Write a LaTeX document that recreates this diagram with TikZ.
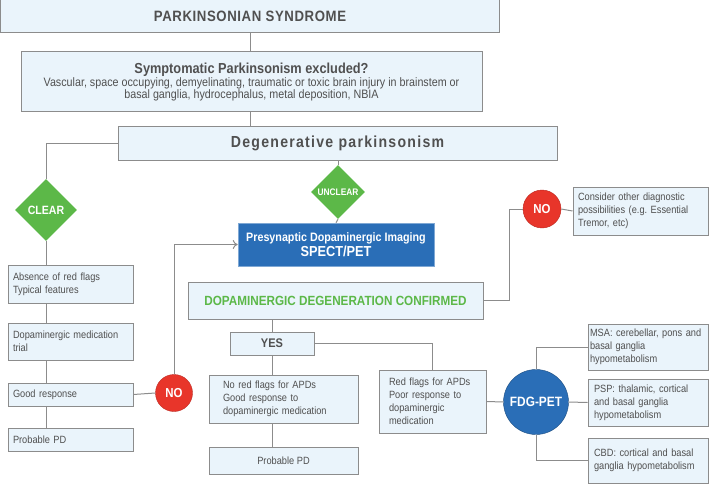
\documentclass[tikz,border=0pt]{standalone}
\usepackage{fontspec}
\setmainfont{Liberation Sans}[FakeStretch=0.88]
\usepackage{tikz}
\usetikzlibrary{shapes.geometric,arrows.meta}

\definecolor{boxfill}{HTML}{EAF4FB}
\definecolor{boxline}{HTML}{8C8C8C}
\definecolor{textgray}{HTML}{505050}
\definecolor{okgreen}{HTML}{5CB848}
\definecolor{nored}{HTML}{E8352A}
\definecolor{imgblue}{HTML}{2A6EB7}

\tikzset{
	box/.style={draw=boxline, fill=boxfill, line width=1pt, inner sep=0pt, text=textgray},
	link/.style={draw=boxline, line width=1pt},
	decision/.style={diamond, aspect=1, fill=okgreen, inner sep=0pt, text=white, font=\bfseries},
	stop/.style={circle, fill=nored, draw=nored!80!black, line width=0.4pt, inner sep=0pt, text=white, font=\fontsize{13}{15}\selectfont\bfseries},
	small/.style={font=\fontsize{10.5}{13}\selectfont},
}

\begin{document}
\begin{tikzpicture}[x=1pt,y=-1pt]
	\useasboundingbox (0,0) rectangle (709,484);

	\node[box, minimum width=499, minimum height=33, font=\fontsize{15}{18}\selectfont\bfseries\addfontfeature{LetterSpace=4}]
		(title) at (250,16.5) {PARKINSONIAN SYNDROME};
	\node[box, minimum width=461, minimum height=60, align=center]
		(symp) at (251.5,82) {{\fontsize{14.5}{17}\selectfont\bfseries Symptomatic Parkinsonism excluded?}\\[1pt]
		\fontsize{12.2}{17}\selectfont Vascular, space occupying, demyelinating, traumatic or toxic brain injury in brainstem or\\
		\fontsize{12.2}{17}\selectfont basal ganglia, hydrocephalus, metal deposition, NBIA};
	\node[box, minimum width=439, minimum height=33, font=\fontsize{16}{18}\selectfont\bfseries\addfontfeature{LetterSpace=8}]
		(degen) at (337.5,143.5) {Degenerative parkinsonism};

	% clinically clear branch
	\node[decision, minimum size=62, font=\fontsize{12}{14}\selectfont\bfseries] (clear) at (46,210) {CLEAR};
	\node[box, small, minimum width=125, minimum height=38, align=left, text width=115]
		(absence) at (70.5,284) {Absence of red flags\\Typical features};
	\node[box, small, minimum width=125, minimum height=37, align=left, text width=115]
		(trial) at (70.5,341.5) {Dopaminergic medication\\trial};
	\node[box, small, minimum width=125, minimum height=23, align=left, text width=115]
		(good) at (70.5,394.5) {Good response};
	\node[box, small, minimum width=125, minimum height=23, align=left, text width=115]
		(ppdA) at (70.5,439.5) {Probable PD};
	\node[stop, minimum size=37] (noA) at (174,393) {NO};

	% imaging branch
	\node[decision, minimum size=54, font=\fontsize{9.5}{11}\selectfont\bfseries] (unclear) at (338,192) {UNCLEAR};
	\node[draw=imgblue!60!white, fill=imgblue, line width=0.6pt, minimum width=196, minimum height=43, inner sep=0pt,
		text=white, align=center, font=\bfseries]
		(spect) at (336,244.5) {{\fontsize{12.2}{14}\selectfont Presynaptic Dopaminergic Imaging}\\[1pt]
		{\fontsize{14.5}{16}\selectfont SPECT/PET}};
	\node[box, minimum width=295, minimum height=37, text=okgreen, font=\fontsize{13.3}{15}\selectfont\bfseries]
		(ddc) at (335.5,300.5) {DOPAMINERGIC DEGENERATION CONFIRMED};
	\node[stop, minimum size=38] (noB) at (542,209) {NO};
	\node[box, small, minimum width=135, minimum height=48, align=left, text width=125]
		(consider) at (640.5,211) {Consider other diagnostic\\possibilities (e.g.\ Essential\\Tremor, etc)};
	\node[box, minimum width=84, minimum height=23, font=\fontsize{12.5}{14}\selectfont\bfseries]
		(yes) at (272,343.5) {YES};
	\node[box, small, minimum width=149, minimum height=48, align=left, text width=121]
		(noflags) at (283.5,399) {No red flags for APDs\\Good response to\\dopaminergic medication};
	\node[box, small, minimum width=149, minimum height=27]
		(ppdB) at (283.5,460.5) {Probable PD};
	\node[box, small, minimum width=107, minimum height=63, align=left, text width=87]
		(flags) at (432.5,401.5) {Red flags for APDs\\Poor response to\\dopaminergic\\medication};

	% FDG-PET
	\node[circle, fill=imgblue, draw=imgblue!70!black, line width=0.4pt, minimum size=65, inner sep=0pt,
		text=white, font=\fontsize{13.5}{16}\selectfont\bfseries] (fdg) at (536,402) {FDG-PET};
	\node[box, small, minimum width=120, minimum height=46, align=left, text width=116]
		(msa) at (648,347) {MSA: cerebellar, pons and\\basal ganglia\\hypometabolism};
	\node[box, small, minimum width=120, minimum height=47, align=left, text width=108]
		(psp) at (648,402.5) {PSP: thalamic, cortical\\and basal ganglia\\hypometabolism};
	\node[box, small, minimum width=120, minimum height=45, align=left, text width=108]
		(cbd) at (648,460.5) {CBD: cortical and basal\\ganglia hypometabolism};

	% connectors
	\draw[link] (title.south) -- (title.south |- symp.north);
	\draw[link] (title.south |- symp.south) -- (title.south |- degen.north);
	\draw[link] (degen.west) -| (clear.north);
	\draw[link] (clear.south) -- (clear.south |- absence.north);
	\draw[link] (clear.south |- absence.south) -- (clear.south |- trial.north);
	\draw[link] (clear.south |- trial.south) -- (clear.south |- good.north);
	\draw[link] (clear.south |- good.south) -- (clear.south |- ppdA.north);
	\draw[link] (good.east) -- (noA.west);
	\draw[link, -{To[length=5pt,width=9pt]}] (noA.north) |- (spect.west);
	\draw[link] (unclear.north |- degen.south) -- (unclear.north);
	\draw[link] (unclear.south) -- (spect.north);
	\draw[link] (ddc.east) -- ++(26,0) |- (noB.west);
	\draw[link] (noB.east) -- (consider.west);
	\draw[link] (yes.north |- ddc.south) -- (yes.north);
	\draw[link] (yes.east) -| (flags.north);
	\draw[link] (yes.south) -- (yes.south |- noflags.north);
	\draw[link] (yes.south |- noflags.south) -- (yes.south |- ppdB.north);
	\draw[link] (flags.east) -- (fdg.west);
	\draw[link] (fdg.north) |- (msa.west);
	\draw[link] (fdg.east) -- (psp.west);
	\draw[link] (fdg.south) |- (cbd.west);
\end{tikzpicture}
\end{document}
